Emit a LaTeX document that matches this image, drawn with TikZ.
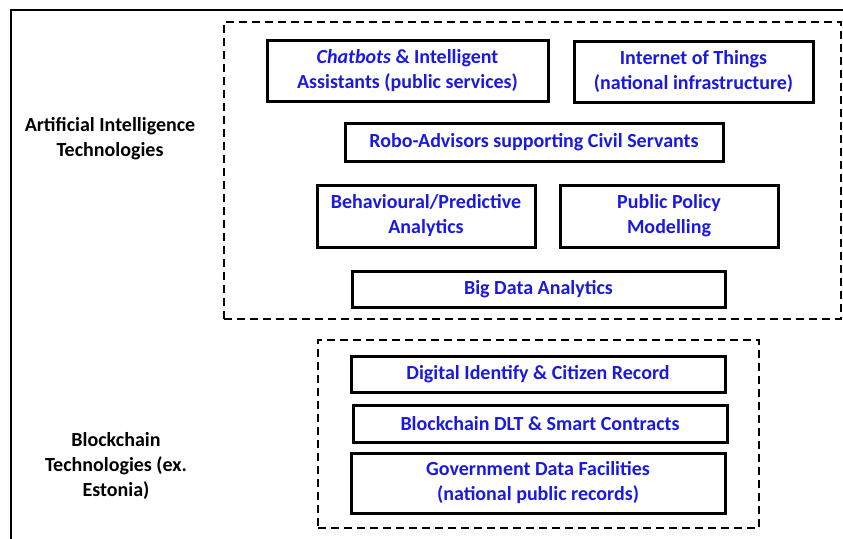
\documentclass[tikz,border=0pt]{standalone}
\usepackage{fontspec}
\setmainfont{Carlito}
\usepackage{tikz}
\definecolor{techblue}{RGB}{25,25,225}

\begin{document}
\begin{tikzpicture}[x=1pt,y=-1pt,
    techbox/.style={draw,line width=3pt,font=\bfseries\fontsize{20}{25}\selectfont,
      text=techblue,align=center,inner sep=0pt},
    groupbox/.style={draw,dashed,line width=1.7pt,dash pattern=on 8pt off 5pt,inner sep=0pt},
    grouplabel/.style={font=\bfseries\fontsize{20}{25}\selectfont,align=center}]
  \useasboundingbox (0,0) rectangle (843,538);
  \draw[line width=2.8pt] (11,560) |- (860,10);
  % groups
  \node[groupbox,minimum width=617pt,minimum height=297pt] (ai) at (532.5,170.5) {};
  \node[groupbox,minimum width=441pt,minimum height=188pt] (bc) at (538.5,434) {};
  \node[grouplabel] (ailabel) at (110,139) {Artificial Intelligence\\Technologies};
  \node[grouplabel] (bclabel) at (116,466) {Blockchain\\Technologies (ex.\\Estonia)};
  % AI technologies
  \node[techbox,minimum width=281pt,minimum height=61pt] (chat) at (407.5,70.5)
    {{\itshape Chatbots} \& Intelligent\\Assistants (public services)};
  \node[techbox,minimum width=239pt,minimum height=61pt] (iot) at (693.5,71.5)
    {Internet of Things\\(national infrastructure)};
  \node[techbox,minimum width=378pt,minimum height=38pt] (robo) at (534,142)
    {Robo-Advisors supporting Civil Servants};
  \node[techbox,minimum width=218pt,minimum height=62pt] (behav) at (426,216)
    {Behavioural/Predictive\\Analytics};
  \node[techbox,minimum width=218pt,minimum height=62pt] (policy) at (669,216)
    {Public Policy\\Modelling};
  \node[techbox,minimum width=373pt,minimum height=36pt] (bigdata) at (538.5,289.5)
    {Big Data Analytics};
  % blockchain technologies
  \node[techbox,minimum width=374pt,minimum height=36pt] (ident) at (538,374)
    {Digital Identify \& Citizen Record};
  \node[techbox,minimum width=374pt,minimum height=37pt] (dlt) at (540,423.5)
    {Blockchain DLT \& Smart Contracts};
  \node[techbox,minimum width=374pt,minimum height=60pt] (gov) at (538,483)
    {Government Data Facilities\\(national public records)};
\end{tikzpicture}
\end{document}
